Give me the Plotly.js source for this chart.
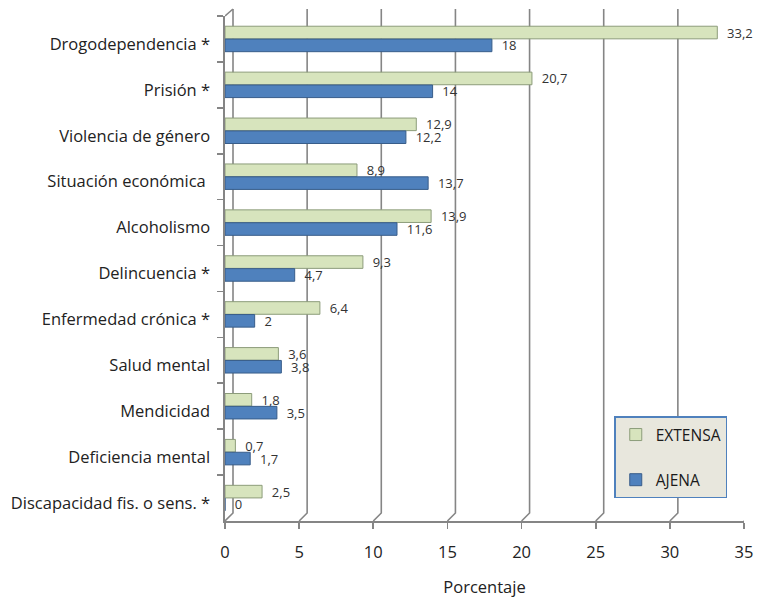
<!DOCTYPE html>
<html>
<head>
<meta charset="utf-8">
<script src="https://cdn.plot.ly/plotly-3.0.1.min.js"></script>
<style>html,body{margin:0;padding:0;background:#fff;}</style>
</head>
<body>
<div id="chart" style="width:757px;height:598px;"></div>
<script>
const categories = ["Drogodependencia *", "Prisión *", "Violencia de género", "Situación económica ", "Alcoholismo", "Delincuencia *", "Enfermedad crónica *", "Salud mental", "Mendicidad", "Deficiencia mental", "Discapacidad fis. o sens. *"];
const extensa = [33.2, 20.7, 12.9, 8.9, 13.9, 9.3, 6.4, 3.6, 1.8, 0.7, 2.5];
const ajena = [18, 14, 12.2, 13.7, 11.6, 4.7, 2, 3.8, 3.5, 1.7, 0];
const xTicks = [0, 5, 10, 15, 20, 25, 30, 35];

const fmt = v => String(v).replace('.', ',');
const FONT = '"Open Sans", "Noto Sans", sans-serif';

const traces = [
  {
    type: 'bar', orientation: 'h', name: 'EXTENSA',
    y: categories, x: extensa, text: extensa.map(fmt),
    texttemplate: '  %{text}',
    textposition: 'outside', cliponaxis: false, constraintext: 'none',
    textfont: {family: FONT, size: 13, color: '#333'},
    marker: {color: '#d7e4bd', line: {color: '#8c9c7a', width: 1}},
    legendgroup: 'a'
  },
  {
    type: 'bar', orientation: 'h', name: 'AJENA',
    y: categories, x: ajena, text: ajena.map(fmt),
    texttemplate: '  %{text}',
    textposition: 'outside', cliponaxis: false, constraintext: 'none',
    textfont: {family: FONT, size: 13, color: '#333'},
    marker: {color: '#4f81bd', line: {color: '#385d8a', width: 1}},
    legendgroup: 'b'
  }
];

// 3D-look back-wall gridlines
const shapes = [];
xTicks.forEach(v => {
  shapes.push({
    type: 'path', xref: 'x', yref: 'paper',
    xsizemode: 'pixel', xanchor: v,
    ysizemode: 'pixel', yanchor: 0,
    path: 'M 0 0 L 8 8 L 8 512',
    line: {color: '#858585', width: 1.6}, layer: 'below'
  });
});
shapes.push({
  type: 'path', xref: 'x', yref: 'paper',
  xsizemode: 'pixel', xanchor: 0,
  ysizemode: 'pixel', yanchor: 1,
  path: 'M 0 0 L 8 7',
  line: {color: '#858585', width: 1.6}, layer: 'below'
});

const layout = {
  width: 757, height: 598,
  margin: {l: 225, r: 13, t: 16, b: 77},
  paper_bgcolor: '#fff', plot_bgcolor: 'rgba(0,0,0,0)',
  font: {family: FONT, size: 14, color: '#222'},
  barmode: 'group', bargap: 0.44, bargroupgap: 0.02,
  showlegend: true,
  legend: {
    x: 0.75, y: 0.207, xanchor: 'left', yanchor: 'top',
    bgcolor: '#e8e7dd', bordercolor: '#4f81bd', borderwidth: 1.5,
    font: {family: FONT, size: 15.5, color: '#1a1a1a'},
    traceorder: 'grouped', tracegroupgap: 22,
    itemwidth: 30
  },
  xaxis: {
    range: [0, 35], tickvals: xTicks, ticktext: xTicks.map(String),
    showgrid: false, zeroline: false,
    showline: true, linecolor: '#858585', linewidth: 1.6,
    ticks: 'outside', ticklen: 6, tickcolor: '#858585', tickwidth: 1.6,
    tickfont: {family: FONT, size: 16.5, color: '#222'},
    ticklabelstandoff: 10,
    title: {text: 'Porcentaje', font: {family: FONT, size: 16.5, color: '#222'}, standoff: 24},
    fixedrange: true
  },
  yaxis: {
    type: 'category', autorange: 'reversed',
    showgrid: false, zeroline: false,
    showline: true, linecolor: '#858585', linewidth: 1.6,
    ticks: 'outside', tickson: 'boundaries', ticklen: 6, tickcolor: '#858585', tickwidth: 1.6,
    tickfont: {family: FONT, size: 16.5, color: '#222'},
    ticklabelstandoff: 10, ticklabelshift: -5,
    fixedrange: true
  },
  shapes: shapes
};

Plotly.newPlot('chart', traces, layout, {displayModeBar: false, staticPlot: true});
</script>
</body>
</html>
